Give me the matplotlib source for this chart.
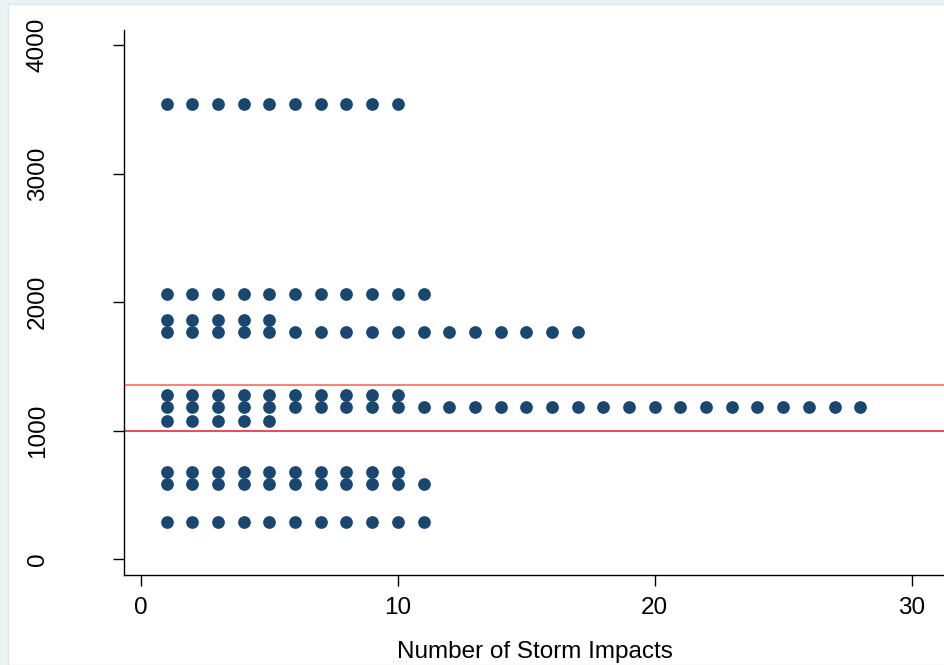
import matplotlib
matplotlib.use("Agg")
import matplotlib.pyplot as plt
from matplotlib.patches import Rectangle

# Storm impact counts per series (x runs 1..n_max) and the y level of each series
levels = [3540, 2065, 1862, 1769, 1275, 1185, 1078, 682, 586, 293]
max_impacts = [10, 11, 5, 17, 10, 28, 5, 10, 11, 11]

ref_lines = [1000, 1358]

x_ticks = [0, 10, 20, 30]
y_ticks = [0, 1000, 2000, 3000, 4000]
x_title = "Number of Storm Impacts"

MARKER = "#1a476f"

plt.rcParams["font.family"] = ["Liberation Sans", "DejaVu Sans"]

fig = plt.figure(figsize=(9.45, 6.65), dpi=100, facecolor="#eaf2f3")
fig.patches.append(
    Rectangle((8 / 945, 0), 1 - 8 / 945, 1 - 4 / 665, transform=fig.transFigure,
              facecolor="white", edgecolor="#dde8ea", linewidth=1, zorder=-10)
)

ax = fig.add_axes([124 / 945, 90 / 665, 1 - 124 / 945, 545 / 665])
ax.set_zorder(1)
ax.set_facecolor("white")

xs, ys = [], []
for lev, n in zip(levels, max_impacts):
    for k in range(1, n + 1):
        xs.append(k)
        ys.append(lev)
ax.scatter(xs, ys, s=84, color=MARKER, linewidths=0, zorder=3)

ax.axhline(ref_lines[0], color="#e41a1c", linewidth=1.1, zorder=2)
ax.axhline(ref_lines[1], color="#ff5a5a", linewidth=1.1, zorder=2)

ax.set_xlim(-0.66, 31.3)
ax.set_ylim(-122, 4117)
ax.set_xticks(x_ticks)
ax.set_yticks(y_ticks)
ax.set_yticklabels([str(v) for v in y_ticks], rotation=90, va="center")

for side in ("top", "right"):
    ax.spines[side].set_visible(False)
for side in ("left", "bottom"):
    ax.spines[side].set_linewidth(1.0)
    ax.spines[side].set_color("black")

ax.tick_params(axis="x", length=8, width=1, labelsize=17.5, pad=8)
ax.tick_params(axis="y", length=8, width=1, labelsize=17.5, pad=46)

ax.set_xlabel(x_title, fontsize=17.5, labelpad=16)

fig.savefig("out.png", dpi=100, facecolor=fig.get_facecolor())
